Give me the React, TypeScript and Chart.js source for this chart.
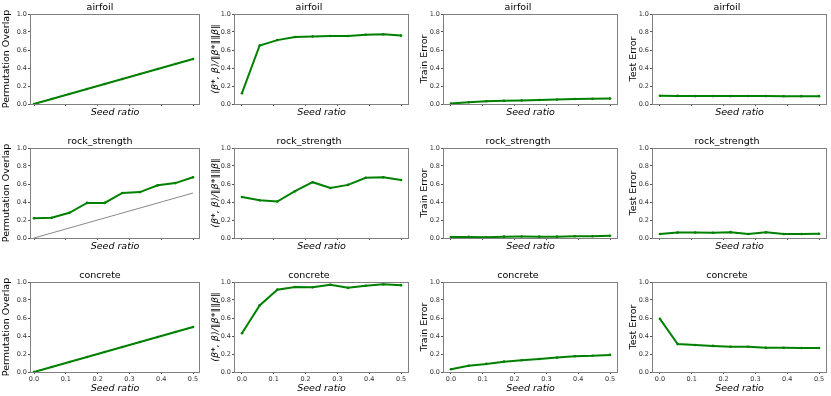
import React, { useEffect, useRef } from 'react';
import { Chart, registerables } from 'chart.js';

Chart.register(...registerables);
Chart.defaults.font.family = '"DejaVu Sans", sans-serif';

// ---- data ----
const seedRatios = [0, 0.0556, 0.1111, 0.1667, 0.2222, 0.2778, 0.3333, 0.3889, 0.4444, 0.5];
const xTickValues = [0, 0.1, 0.2, 0.3, 0.4, 0.5];
const yTickValues = [0, 0.2, 0.4, 0.6, 0.8, 1.0];
const datasetNames = ['airfoil', 'rock_strength', 'concrete'];
const metricLabels = ['Permutation Overlap', '⟨β*, β⟩/‖β*‖‖β‖', 'Train Error', 'Test Error'];
const xAxisLabel = 'Seed ratio';

const baselineX = [0, 0.5];
const baselineY = [0, 0.5];

const airfoilOverlap = [0, 0.056, 0.111, 0.167, 0.222, 0.278, 0.333, 0.389, 0.444, 0.5];
const airfoilCosine = [0.12, 0.65, 0.71, 0.745, 0.75, 0.755, 0.755, 0.77, 0.775, 0.76];
const airfoilTrain = [0.005, 0.02, 0.03, 0.035, 0.04, 0.045, 0.05, 0.055, 0.057, 0.06];
const airfoilTest = [0.092, 0.09, 0.088, 0.088, 0.088, 0.089, 0.088, 0.086, 0.087, 0.087];

const rockOverlap = [0.22, 0.225, 0.28, 0.39, 0.39, 0.5, 0.51, 0.585, 0.61, 0.675];
const rockCosine = [0.455, 0.42, 0.405, 0.52, 0.62, 0.555, 0.59, 0.67, 0.675, 0.645];
const rockTrain = [0.01, 0.012, 0.008, 0.015, 0.017, 0.015, 0.015, 0.02, 0.02, 0.025];
const rockTest = [0.045, 0.06, 0.06, 0.058, 0.065, 0.045, 0.063, 0.045, 0.045, 0.048];

const concreteOverlap = [0, 0.056, 0.111, 0.167, 0.222, 0.278, 0.333, 0.389, 0.444, 0.5];
const concreteCosine = [0.43, 0.74, 0.915, 0.945, 0.942, 0.97, 0.935, 0.958, 0.975, 0.965];
const concreteTrain = [0.03, 0.07, 0.09, 0.115, 0.13, 0.145, 0.16, 0.175, 0.18, 0.19];
const concreteTest = [0.59, 0.31, 0.3, 0.29, 0.28, 0.28, 0.27, 0.27, 0.267, 0.267];

const gridValues = [
  [airfoilOverlap, airfoilCosine, airfoilTrain, airfoilTest],
  [rockOverlap, rockCosine, rockTrain, rockTest],
  [concreteOverlap, concreteCosine, concreteTrain, concreteTest],
];

// per-column geometry
const COL_GEOM = [
  { left: 0, side: 30, plotW: 170, xMin: -0.0126, xMax: 0.522 },
  { left: 209, side: 25, plotW: 175, xMin: -0.025, xMax: 0.525 },
  { left: 418, side: 25, plotW: 175, xMin: -0.025, xMax: 0.525 },
  { left: 627, side: 25, plotW: 175, xMin: -0.025, xMax: 0.525 },
];
const ROW_STEP = 134;
const CANVAS_H = 128;

const framePlugin = {
  id: 'frame',
  afterDraw(chart: any) {
    const { ctx, chartArea } = chart;
    ctx.save();
    ctx.strokeStyle = '#808080';
    ctx.lineWidth = 1;
    ctx.strokeRect(
      Math.round(chartArea.left) + 0.5,
      Math.round(chartArea.top) + 0.5,
      Math.round(chartArea.right - chartArea.left) - 1,
      Math.round(chartArea.bottom - chartArea.top)
    );
    ctx.restore();
  },
};

function SubPlot({ row, col }: { row: number; col: number }) {
  const ref = useRef<HTMLCanvasElement | null>(null);
  const g = COL_GEOM[col];
  const canvasW = g.side * 2 + g.plotW;
  useEffect(() => {
    if (!ref.current) return;
    const values = gridValues[row][col];
    const datasets: any[] = [
      {
        data: seedRatios.map((x, i) => ({ x, y: values[i] })),
        borderColor: '#008000',
        backgroundColor: '#008000',
        borderWidth: 2,
        pointRadius: 1.3,
        pointBorderWidth: 0,
        pointBackgroundColor: '#008000',
        tension: 0,
        order: 0,
      },
    ];
    if (col === 0) {
      datasets.push({
        data: baselineX.map((x, i) => ({ x, y: baselineY[i] })),
        borderColor: '#555555',
        borderWidth: 0.7,
        pointRadius: 0,
        order: 1,
      });
    }
    const showXLabels = row === 2;
    const chart = new Chart(ref.current, {
      type: 'line',
      data: { datasets },
      plugins: [framePlugin],
      options: {
        animation: false,
        responsive: false,
        events: [],
        layout: { padding: { top: 0, right: g.side, bottom: 0, left: 0 } },
        plugins: {
          legend: { display: false },
          tooltip: { enabled: false },
          title: {
            display: true,
            text: datasetNames[row],
            color: '#000',
            font: { size: 9.5, weight: 'normal' },
            padding: { top: 1.5, bottom: 1.1 },
          },
        },
        scales: {
          x: {
            type: 'linear',
            min: g.xMin,
            max: g.xMax,
            afterBuildTicks: (s: any) => {
              s.ticks = xTickValues.map((v) => ({ value: v }));
            },
            afterFit: (s: any) => {
              s.height = 24;
            },
            grid: { display: true, drawOnChartArea: false, drawTicks: true, tickLength: 2, color: '#555' },
            border: { display: false },
            ticks: {
              autoSkip: false,
              maxRotation: 0,
              padding: 1,
              color: '#333',
              font: { size: 6.5 },
              callback: (v: any) => (showXLabels ? Number(v).toFixed(1) : ''),
            },
            title: {
              display: true,
              text: xAxisLabel,
              color: '#000',
              font: { size: 9.5, style: 'italic' },
              padding: { top: 0, bottom: showXLabels ? 2 : 10 },
            },
          },
          y: {
            type: 'linear',
            min: 0,
            max: 1,
            afterBuildTicks: (s: any) => {
              s.ticks = yTickValues.map((v) => ({ value: v }));
            },
            afterFit: (s: any) => {
              s.width = g.side;
            },
            grid: { display: true, drawOnChartArea: false, drawTicks: true, tickLength: 2, color: '#555' },
            border: { display: false },
            ticks: {
              padding: 1,
              color: '#333',
              font: { size: 6.5 },
              callback: (v: any) => Number(v).toFixed(1),
            },
            title: {
              display: true,
              text: metricLabels[col],
              color: '#000',
              font: { size: 9.5, style: col === 1 ? 'italic' : 'normal' },
              padding: { top: 1.3, bottom: 0 },
            },
          },
        },
      },
    });
    return () => chart.destroy();
  }, [row, col]);
  return (
    <canvas
      ref={ref}
      width={canvasW}
      height={CANVAS_H}
      style={{
        position: 'absolute',
        left: g.left,
        top: row * ROW_STEP,
        width: canvasW,
        height: CANVAS_H,
      }}
    />
  );
}

export default function App() {
  const cells: JSX.Element[] = [];
  for (let r = 0; r < 3; r++) {
    for (let c = 0; c < 4; c++) {
      cells.push(<SubPlot key={`${r}-${c}`} row={r} col={c} />);
    }
  }
  return (
    <div
      style={{
        position: 'absolute',
        left: 0,
        top: 0,
        width: 831,
        height: 396,
        overflow: 'hidden',
        background: '#fff',
      }}
    >
      {cells}
    </div>
  );
}
